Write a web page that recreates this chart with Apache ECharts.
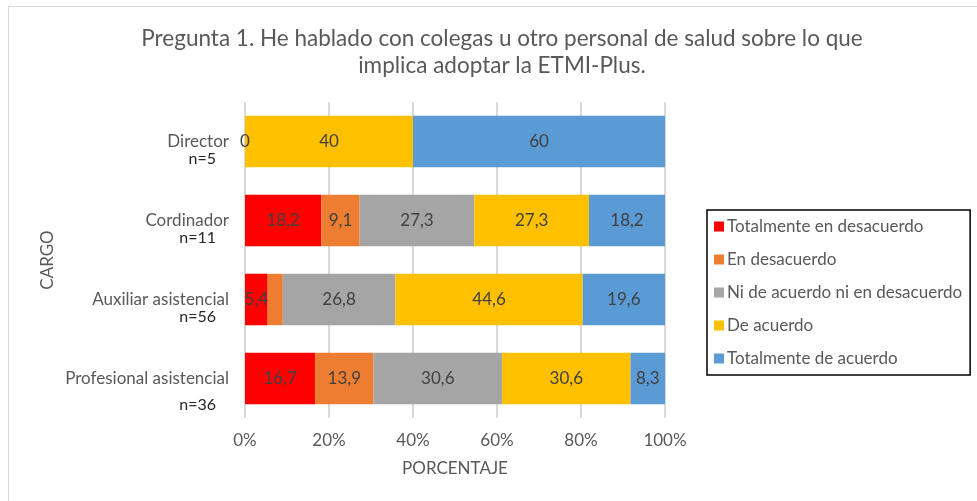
<!DOCTYPE html>
<html>
<head>
<meta charset="utf-8">
<script src="https://cdn.jsdelivr.net/npm/echarts@6/dist/echarts.min.js"></script>
<style>html,body{margin:0;padding:0;background:#fff}#c{width:977px;height:501px}</style>
</head>
<body>
<div id="c"></div>
<script>
const categories = ['Director', 'Cordinador', 'Auxiliar asistencial', 'Profesional asistencial'];
const sampleSizes = ['n=5', 'n=11', 'n=56', 'n=36'];
const seriesNames = ['Totalmente en desacuerdo', 'En desacuerdo', 'Ni de acuerdo ni en desacuerdo', 'De acuerdo', 'Totalmente de acuerdo'];
const totalmenteDesacuerdo = [0, 18.2, 5.4, 16.7];
const enDesacuerdo = [null, 9.1, 3.6, 13.9];
const niNi = [null, 27.3, 26.8, 30.6];
const deAcuerdo = [40, 27.3, 44.6, 30.6];
const totalmenteAcuerdo = [60, 18.2, 19.6, 8.3];
const hiddenLabels = [[], [2], [], [], []]; // orange 3,6 of Auxiliar is not labelled in the reference
const xTicks = [0, 20, 40, 60, 80, 100];
const colors = ['#FF0000', '#ED7D31', '#A5A5A5', '#FFC000', '#5B9BD5'];

const FONT = 'Lato, "Open Sans", sans-serif';
const values = [totalmenteDesacuerdo, enDesacuerdo, niNi, deAcuerdo, totalmenteAcuerdo];

const series = seriesNames.map((name, si) => ({
  name: name,
  type: 'bar',
  stack: 'total',
  barWidth: '65%',
  itemStyle: { color: colors[si] },
  label: {
    show: true,
    position: 'inside',
    color: '#404040',
    fontSize: 17,
    fontFamily: FONT,
    formatter: p => String(p.value).replace('.', ',')
  },
  data: values[si].map((v, i) => hiddenLabels[si].includes(i) ? { value: v, label: { show: false } } : v)
}));

const chart = echarts.init(document.getElementById('c'), null, { renderer: 'canvas' });
chart.setOption({
  animation: false,
  backgroundColor: '#fff',
  title: {
    text: 'Pregunta 1. He hablado con colegas u otro personal de salud sobre lo que\nimplica adoptar la ETMI-Plus.',
    left: 497,
    top: 20,
    textAlign: 'center',
    textStyle: { fontSize: 22.5, fontWeight: 'normal', color: '#595959', fontFamily: FONT, lineHeight: 27 }
  },
  graphic: [{
    type: 'rect', shape: { x: 8.5, y: 6.5, width: 1000, height: 1000 },
    style: { fill: 'none', stroke: '#d9d9d9', lineWidth: 1 }, silent: true, z: -10
  }],
  legend: {
    orient: 'vertical',
    left: 707,
    top: 210,
    width: 266,
    height: 164,
    padding: [8, 8, 8, 7],
    borderColor: '#000',
    borderWidth: 1.5,
    itemWidth: 10,
    itemHeight: 10,
    itemGap: 16,
    icon: 'rect',
    textStyle: { fontSize: 17, color: '#595959', fontFamily: FONT, padding: [0, 0, 0, -2] },
    data: seriesNames
  },
  grid: { left: 245, right: 312, top: 102, bottom: 83, containLabel: false },
  xAxis: {
    type: 'value',
    min: 0,
    max: 100,
    interval: 20,
    name: 'PORCENTAJE',
    nameLocation: 'middle',
    nameGap: 42,
    nameTextStyle: { fontSize: 17, color: '#595959', fontFamily: FONT },
    axisLine: { show: false },
    axisTick: { show: false },
    axisLabel: {
      fontSize: 17, color: '#595959', fontFamily: FONT, margin: 14,
      formatter: v => xTicks.includes(v) ? v + '%' : ''
    },
    splitLine: { show: true, lineStyle: { color: '#d9d9d9', width: 2 } }
  },
  yAxis: {
    type: 'category',
    inverse: true,
    data: categories,
    name: 'CARGO',
    nameLocation: 'middle',
    nameGap: 189,
    nameRotate: 90,
    nameTextStyle: { fontSize: 17, color: '#595959', fontFamily: FONT },
    axisLine: { show: false },
    axisTick: { show: false },
    axisLabel: {
      margin: 16,
      align: 'right',
      fontFamily: FONT,
      formatter: (v) => {
        const idx = categories.indexOf(v);
        if (idx === categories.length - 1) {
          return '{s2| }\n{a|' + v + '}\n{b2|' + sampleSizes[idx] + '}';
        }
        return '{s| }\n{a|' + v + '}\n{b|' + sampleSizes[idx] + '}';
      },
      rich: {
        s: { fontSize: 15, lineHeight: 17, fontFamily: FONT },
        s2: { fontSize: 15, lineHeight: 34, fontFamily: FONT },
        a: { fontSize: 17, lineHeight: 18, color: '#595959', fontFamily: FONT, align: 'right' },
        b: { fontSize: 16, lineHeight: 17, color: '#262626', fontFamily: FONT, align: 'right', padding: [0, 13, 0, 0] },
        b2: { fontSize: 16, lineHeight: 34, color: '#262626', fontFamily: FONT, align: 'right', padding: [0, 13, 0, 0] }
      }
    }
  },
  series: series
});
</script>
</body>
</html>
